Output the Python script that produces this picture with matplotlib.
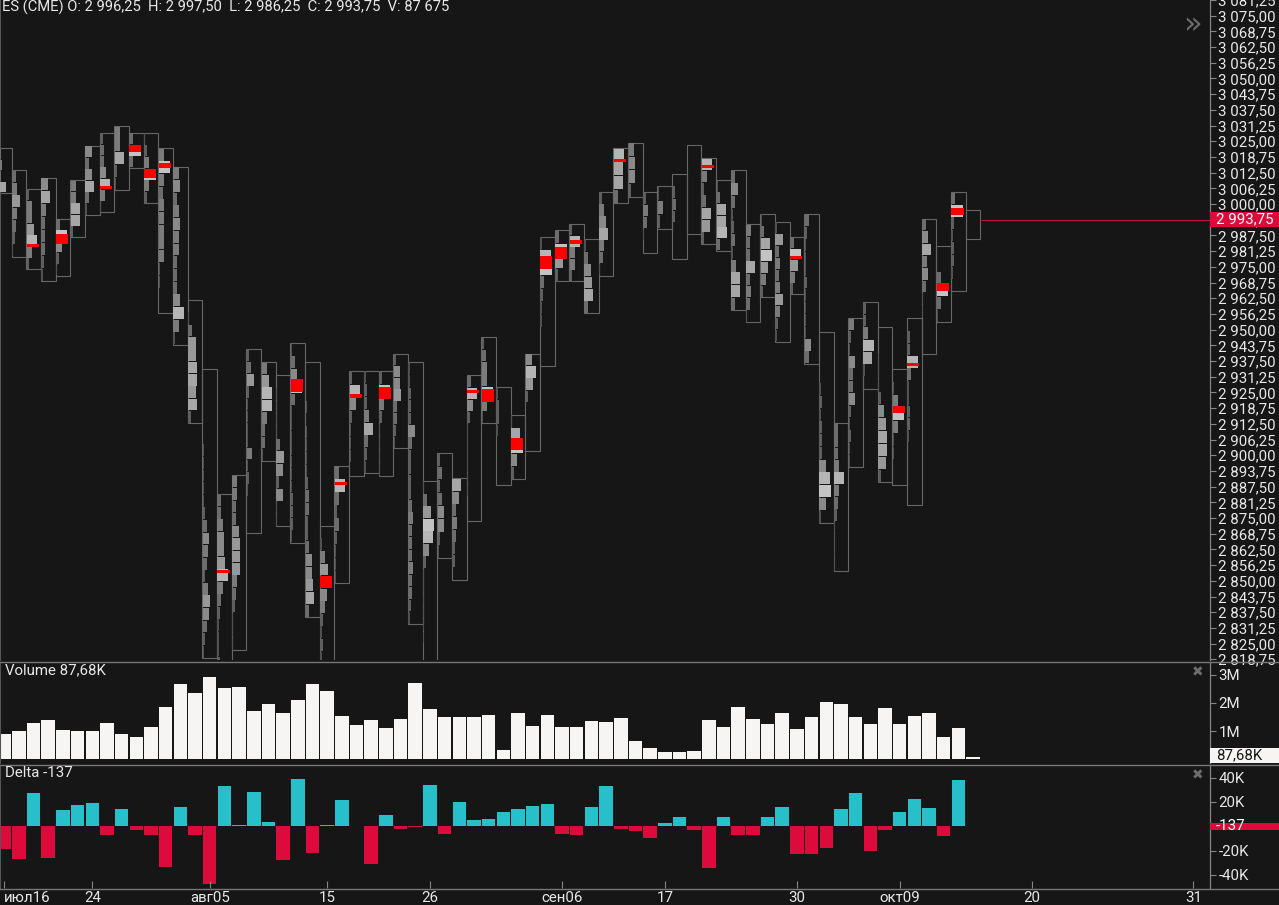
import numpy as np
import pandas as pd
import matplotlib
matplotlib.use("Agg")
import matplotlib.pyplot as plt
from matplotlib.patches import Rectangle
from matplotlib.lines import Line2D
from matplotlib.transforms import blended_transform_factory

plt.rcParams['font.family'] = ['Roboto', 'DejaVu Sans']

# ---- data (ES, daily sessions 16 Jul - 16 Oct) ----
highs = [3022.25, 3013.5, 3006.0, 3010.5, 2994.25, 3009.5, 3023.25, 3028.25, 3031.0, 3028.25,
         3028.25, 3022.25, 3014.75, 2962.0, 2934.5, 2884.5, 2892.0, 2942.25, 2937.0, 2931.75,
         2944.5, 2937.0, 2872.0, 2895.75, 2933.5, 2933.5, 2933.5, 2940.5, 2937.0, 2889.75,
         2900.75, 2890.75, 2931.75, 2947.0, 2927.0, 2916.0, 2940.5, 2987.0, 2989.5, 2992.0,
         2986.0, 3004.75, 3022.25, 3024.5, 3004.75, 3007.0, 3012.0, 3023.5, 3018.25, 3009.5,
         3013.5, 2992.0, 2996.0, 2993.0, 2987.0, 2996.0, 2949.25, 2913.0, 2954.5, 2961.0,
         2951.0, 2934.5, 2954.5, 2994.25, 2983.25, 3004.75, 2997.5]
lows = [3004.5, 2979.0, 2974.0, 2969.25, 2971.5, 2986.75, 2995.5, 2996.75, 3005.5, 3014.5,
        3000.25, 2956.5, 2944.0, 2912.75, 2819.25, 2805.0, 2822.5, 2869.0, 2897.75, 2871.75,
        2865.25, 2835.5, 2812.0, 2849.0, 2891.75, 2892.75, 2891.75, 2902.75, 2832.75, 2815.0,
        2859.0, 2850.25, 2874.0, 2912.75, 2888.0, 2890.5, 2901.5, 2935.5, 2969.25, 2969.25,
        2956.5, 2971.5, 3000.25, 3002.75, 2980.5, 2990.25, 2978.0, 2988.0, 2984.0, 2981.5,
        2957.75, 2953.0, 2963.0, 2945.25, 2964.0, 2936.5, 2873.0, 2854.0, 2895.25, 2926.5,
        2889.25, 2888.0, 2880.25, 2940.25, 2953.0, 2965.25, 2986.25]
# volume-at-price, top to bottom, 0..9
profiles = ["3437", "3464321", "2446842", "57433321", "39521", "44772", "535731", "2335841",
            "44721", "393", "124942", "4943444441100", "45345443335841", "0136677672",
            "00000011111235432465321", "3345568432111211", "44335666432111",
            "236211114121000", "46884331", "011113652511", "1359311111112221",
            "00010111123322355673", "014695421211", "383232111", "28521110", "12247321",
            "29421111", "25563321", "112225322223433343321", "136985211111100", "23235521",
            "75343220", "385211111100", "2344941", "12210000", "17952", "58620000",
            "1893211000", "3962", "28442", "135673", "2457431", "8773", "4552", "24310", "142",
            "0232000", "0", "8423762", "137783", "35312314773", "43373431", "1379642",
            "1634346421", "39642", "321112111153", "000012122258951", "333484321111",
            "421533521211", "2248710", "001112567762", "014941100", "022831122100000",
            "35745311000", "003931", "39212210", "0"]
poc = [None, None, 2983.5, None, 2986.0, None, None, 3006.5, None, 3022.0,
       3012.25, 3015.5, None, None, None, 2853.75, None, None, None, None,
       2927.75, None, 2849.5, 2888.75, 2923.5, None, 2924.75, None, None, None,
       None, None, 2925.25, 2923.75, None, 2904.5, None, 2976.75, 2980.5, 2985.0,
       None, None, 3017.5, None, None, None, None, None, 3015.0, None,
       None, None, None, None, 2978.75, None, None, None, None, None,
       None, 2918.25, 2936.25, None, 2967.0, 2997.0, None]
poc_h = [0, 0, 1.25, 0, 4.0, 0, 0, 1.0, 0, 2.75,
         3.75, 2.0, 0, 0, 0, 1.25, 0, 0, 0, 0,
         5.0, 0, 5.0, 1.25, 1.5, 0, 4.5, 0, 0, 0,
         0, 0, 1.25, 5.0, 0, 5.0, 0, 5.0, 4.75, 1.5,
         0, 0, 1.25, 0, 0, 0, 0, 0, 1.25, 0,
         0, 0, 0, 0, 1.25, 0, 0, 0, 0, 0,
         0, 2.75, 1.25, 0, 3.0, 2.75, 0]
volume = [0.89, 1.0, 1.29, 1.39, 1.04, 1.0, 1.0, 1.29, 0.89, 0.79,
          1.14, 1.86, 2.68, 2.36, 2.93, 2.54, 2.57, 1.71, 1.96, 1.64,
          2.11, 2.68, 2.43, 1.54, 1.21, 1.39, 1.11, 1.43, 2.71, 1.79,
          1.5, 1.5, 1.5, 1.57, 0.32, 1.64, 1.18, 1.57, 1.14, 1.14,
          1.36, 1.32, 1.46, 0.64, 0.39, 0.25, 0.25, 0.29, 1.39, 1.14,
          1.86, 1.43, 1.25, 1.64, 1.07, 1.5, 2.04, 1.96, 1.5, 1.25,
          1.83, 1.25, 1.54, 1.64, 0.79, 1.11, 0.08768]  # millions
delta = [-18.4, -27.2, 27.4, -26.1, 13.2, 17.3, 19.2, -7.4, 14.0, -3.3,
         -7.4, -33.7, 15.6, -7.4, -47.7, 32.9, 0.8, 28.0, 3.3, -28.0,
         38.7, -22.2, 0.8, 21.4, 0.3, -31.3, 9.0, -2.5, -0.8, 34.0,
         -6.0, 20.0, 5.0, 6.0, 12.0, 14.0, 17.0, 18.0, -6.0, -7.0,
         16.0, 33.0, -2.0, -4.0, -10.0, 3.0, 8.0, -3.0, -34.0, 8.0,
         -7.0, -7.0, 8.0, 16.0, -23.0, -23.0, -18.0, 14.0, 27.0, -20.0,
         -3.3, 11.8, 22.5, 15.0, -8.0, 38.0, -0.137]  # thousands
last_open, last_close = 2996.25, 2993.75
last_vol = 87675

dates = pd.bdate_range("2019-07-16", "2019-10-16")
tick_days = ["2019-07-16", "2019-07-24", "2019-08-05", "2019-08-15", "2019-08-26",
             "2019-09-06", "2019-09-17", "2019-09-30", "2019-10-09", "2019-10-20", "2019-10-31"]
tick_labels = ["июл16", "24", "авг05", "15", "26", "сен06", "17", "30", "окт09", "20", "31"]

# ---- style ----
BG = '#161616'
TXT = '#e8e8e8'
GRID = '#858585'
BOX = '#666666'
CYAN = '#27bfc9'
CRIM = '#dc0b3c'
FS = 10.8

W, H = 1279, 905
fig = plt.figure(figsize=(W / 100, H / 100), dpi=100, facecolor=BG)


def fy(px):
    return 1 - px / H


def ru(v, nd=2):
    return f"{v:,.{nd}f}".replace(",", " ").replace(".", ",")


right = 1210 / W
axp = fig.add_axes([0, fy(660), right, 660 / H])
axv = fig.add_axes([0, fy(763), right, (763 - 662) / H])
axd = fig.add_axes([0, fy(888), right, (888 - 765) / H])

n = len(highs)
x = np.arange(n)
xlim = (-0.286, 82.14)

for ax in (axp, axv, axd):
    ax.set_facecolor(BG)
    ax.set_xlim(*xlim)
    for s in ('top', 'bottom'):
        ax.spines[s].set_visible(False)
    ax.spines['left'].set_color('#555555')
    ax.spines['right'].set_color(GRID)
    ax.spines['right'].set_linewidth(0.9)
    ax.yaxis.tick_right()
    ax.tick_params(axis='y', colors=GRID, labelcolor=TXT, length=4, width=0.8,
                   labelsize=FS, pad=2)
    ax.tick_params(axis='x', bottom=False, labelbottom=False)

# ---- price panel: day profiles ----
axp.set_ylim(2818.47, 3081.21)
bx, by, bw, bh, bc = [], [], [], [], []
for i in range(n):
    hi, lo, prof = highs[i], lows[i], profiles[i]
    axp.add_patch(Rectangle((i - 0.5, lo), 1.0, hi - lo, fill=False, ec=BOX, lw=0.8, zorder=2))
    step = (hi - lo) / len(prof)
    for k, ch in enumerate(prof):
        d = int(ch)
        if d == 0:
            continue
        g = 0.26 + 0.056 * d
        bx.append(i - 0.47)
        by.append(hi - (k + 0.5) * step)
        bw.append(d / 9 * 0.78)
        bh.append(step * 0.94)
        bc.append((g, g, g))
axp.barh(by, bw, height=bh, left=bx, color=bc, lw=0, zorder=3)
for i in range(n):
    if poc[i] is not None:
        axp.barh(poc[i], 0.82, height=poc_h[i], left=i - 0.47, color='#ff0000', lw=0, zorder=4)

axp.hlines(last_close, n - 0.45, xlim[1], color='#c8103e', lw=0.8, zorder=4)

yt = np.arange(2818.75, 3081.26, 6.25)
axp.set_yticks(yt)
axp.set_yticklabels([ru(v) for v in yt])

bt = blended_transform_factory(axp.transAxes, axp.transData)
axp.add_patch(Rectangle((1.0, last_close - 3.0), W / 1210 - 1.0, 6.0, transform=bt,
                        fc=CRIM, ec='none', clip_on=False, zorder=10))
axp.text(1.005, last_close, ru(last_close), transform=bt, color='white', fontsize=FS,
         va='center', ha='left', zorder=11)

# ---- volume panel ----
axv.set_ylim(-0.14, 3.46)
axv.bar(x, volume, width=0.92, color='#f7f4f4', lw=0)
axv.set_yticks([1, 2, 3])
axv.set_yticklabels(["1M", "2M", "3M"])
bv = blended_transform_factory(axv.transAxes, axv.transData)
vc = max(volume[-1], -0.14 + 0.27)
axv.add_patch(Rectangle((1.0, vc - 0.27), W / 1210 - 1.0, 0.54, transform=bv,
                        fc='#f7f4f4', ec='none', clip_on=False, zorder=10))
vol_txt = ru(volume[-1] * 1000) + "K"
axv.text(1.005, vc, vol_txt, transform=bv, color='#161616', fontsize=FS,
         va='center', ha='left', zorder=11)

# ---- delta panel ----
axd.set_ylim(-50.8, 50.4)
axd.bar(x, delta, width=0.92, color=[CYAN if d >= 0 else CRIM for d in delta], lw=0)
axd.set_yticks([-40, -20, 20, 40])
axd.set_yticklabels(["-40K", "-20K", "20K", "40K"])
bd = blended_transform_factory(axd.transAxes, axd.transData)
axd.add_patch(Rectangle((1.0, delta[-1] - 3.1), W / 1210 - 1.0, 6.2, transform=bd,
                        fc=CRIM, ec='none', clip_on=False, zorder=10))
d_txt = f"{delta[-1] * 1000:.0f}"
axd.text(1.005, delta[-1], d_txt, transform=bd, color='white', fontsize=FS,
         va='center', ha='left', zorder=11)

# ---- date axis ----
tpos = []
for s in tick_days:
    t = pd.Timestamp(s)
    if t <= dates[-1]:
        tpos.append(float(dates.get_loc(t)))
    else:
        tpos.append((n - 1) + (t - dates[-1]).days)
axd.set_xticks(tpos)
axd.set_xticklabels(tick_labels)
axd.tick_params(axis='x', bottom=True, labelbottom=True, direction='in', length=5,
                width=0.8, colors=GRID, labelcolor=TXT, labelsize=FS, pad=2)
axd.get_xticklabels()[0].set_ha('left')

# ---- separators, captions ----
for ypx in (661.5, 764.5, 888.5):
    fig.add_artist(Line2D([0, 1], [fy(ypx)] * 2, color='#777777', lw=1.0))

hdr = (f"ES (CME) O: {ru(last_open)}  H: {ru(highs[-1])}  L: {ru(lows[-1])}  "
       f"C: {ru(last_close)}  V: {ru(last_vol, 0)}")
fig.text(2 / W, fy(7), hdr, color=TXT, fontsize=10.6, va='center', ha='left')
fig.text(5 / W, fy(670), "Volume " + vol_txt, color=TXT, fontsize=FS, va='center')
fig.text(5 / W, fy(773), "Delta " + d_txt, color=TXT, fontsize=FS, va='center')
fig.text(1192 / W, fy(25), "»", color='#6c6c6c', fontsize=22, ha='center', va='center',
         family='DejaVu Sans')
for ypx in (672, 775):
    fig.text(1198 / W, fy(ypx), "✖", color='#6c6c6c', fontsize=10, ha='center', va='center',
             family='DejaVu Sans')

fig.savefig("out.png", dpi=100, facecolor=BG)
